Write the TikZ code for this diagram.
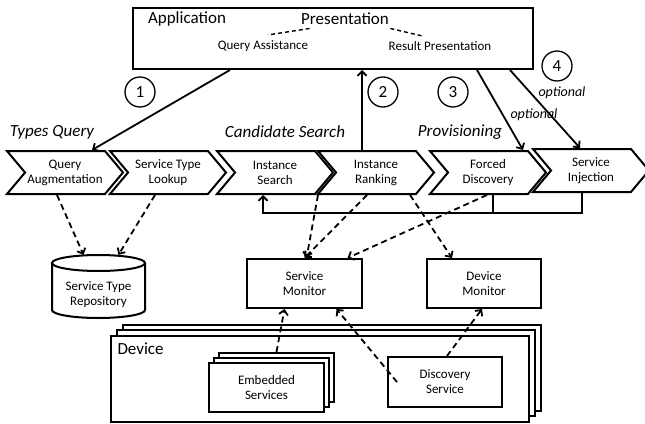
\documentclass[tikz,border=0pt]{standalone}
\usepackage{fontspec}
\setmainfont{Carlito}
\usetikzlibrary{positioning,arrows.meta,shapes.symbols,calc}

\begin{document}
\begin{tikzpicture}[x=1pt,y=-1pt,>={Straight Barb[length=4.5pt,width=9pt]},
  box/.style={draw,line width=2pt,fill=white,align=center,inner sep=0pt,font=\fontsize{13}{15}\selectfont},
  chev/.style={draw,line width=2pt,signal,signal to=east,signal from=west,signal pointer angle=100,
    minimum width=116pt,minimum height=43pt,inner sep=0pt,align=center,font=\fontsize{13}{15}\selectfont},
  head/.style={font=\fontsize{17}{19}\selectfont},
  phase/.style={font=\fontsize{17}{19}\selectfont\itshape},
  num/.style={draw,circle,line width=1.3pt,minimum size=30pt,inner sep=0pt,font=\fontsize{17}{19}\selectfont},
  flow/.style={->,line width=1.8pt},
  dep/.style={->,line width=1.8pt,dash pattern=on 6pt off 4pt}]
\useasboundingbox (0,0) rectangle (645,423);

% application box
\node[draw,line width=2pt,minimum width=400pt,minimum height=61pt] (app) at (333,38.5) {};
\node[head] (appl) at (187,19) {Application};
\node[head] (pres) at (345,19) {Presentation};
\node[font=\fontsize{13}{15}\selectfont] (qass) at (263,46) {Query Assistance};
\node[font=\fontsize{13}{15}\selectfont] (rpres) at (440,46) {Result Presentation};
\draw[line width=1.4pt,dash pattern=on 4pt off 3pt] ([xshift=12pt]pres.south west) -- ([xshift=5pt,yshift=2pt]qass.north);
\draw[line width=1.4pt,dash pattern=on 4pt off 3pt] ([xshift=-2pt]pres.south east) -- ([xshift=-18pt,yshift=2pt]rpres.north);

% step numbers
\node[num] (n1) at (140,92) {1};
\node[num] (n2) at (383,92) {2};
\node[num] (n3) at (453,92) {3};
\node[num] (n4) at (557,66) {4};
\node[font=\fontsize{14}{16}\selectfont\itshape] (opt1) at (562,93) {optional};
\node[font=\fontsize{14}{16}\selectfont\itshape] (opt2) at (534,115) {optional};

% phases
\node[phase] (ptq) at (52,132) {Types Query};
\node[phase] (pcs) at (285,132) {Candidate Search};
\node[phase] (ppv) at (460,132) {Provisioning};

% chevrons
\node[chev] (qaug) at (65,172.5) {Query\\Augmentation};
\node[chev] (stype) at (168,172.5) {Service Type\\Lookup};
\node[chev] (isearch) at (275,172.5) {Instance\\Search};
\node[chev] (irank) at (376,172.5) {Instance\\Ranking};
\node[chev] (fdisc) at (488,172.5) {Forced\\Discovery};
\node[chev] (sinj) at (591,170.5) {Service\\Injection};

% repository
\draw[line width=2pt,fill=white] (52,263) -- (52,310) arc[start angle=180,end angle=360,x radius=46.5pt,y radius=8pt] -- (145,263);
\draw[line width=2pt] (98.5,263) ellipse[x radius=46.5pt,y radius=8pt];
\node[minimum width=93pt,minimum height=63pt,inner sep=0pt] (repo) at (98.5,286.5) {};
\node[align=center,font=\fontsize{13}{15}\selectfont] (repol) at (98.5,295) {Service Type\\Repository};

% monitors
\node[box,minimum width=115pt,minimum height=49pt] (smon) at (304.5,283.5) {Service\\Monitor};
\node[box,minimum width=114pt,minimum height=49pt] (dmon) at (484,283.5) {Device\\Monitor};

% device stack
\node[box,minimum width=418pt,minimum height=86pt] (devc) at (332,368) {};
\node[box,minimum width=418pt,minimum height=86pt] (devb) at (326,373) {};
\node[box,minimum width=418pt,minimum height=86pt] (dev) at (320,378.5) {};
\node[head,anchor=west] (devl) at (114,349) {Device};

% embedded services stack
\node[box,minimum width=115pt,minimum height=49pt] (embb) at (276.5,377.5) {};
\node[box,minimum width=115pt,minimum height=49pt] (embm) at (271.5,382.5) {};
\node[box,minimum width=115pt,minimum height=49pt] (emb) at (266.5,387.5) {Embedded\\Services};
\node[box,minimum width=114pt,minimum height=50pt] (disc) at (445,382) {Discovery\\Service};

% control flow
\draw[flow] ([xshift=-103pt]app.south) -- ([xshift=27pt]qaug.north);
\draw[flow] ([xshift=-14pt]irank.north) -- ([xshift=-14pt]irank.north |- app.south);
\draw[flow] ([xshift=144pt]app.south) -- ([xshift=35pt]fdisc.north);
\draw[flow] ([xshift=177pt]app.south) -- ([xshift=-11pt]sinj.north);
\draw[flow] ([xshift=-9pt]sinj.south) -- ++(0,20) -| ([xshift=-12pt]isearch.south);
\draw[line width=1.8pt] ([xshift=5pt]fdisc.south) -- ++(0,18);

% dependencies
\draw[dep] ([xshift=-8pt]qaug.south) -- ([xshift=-15pt]repo.north);
\draw[dep] ([xshift=-13pt]stype.south) -- ([xshift=20pt]repo.north);
\draw[dep] ([xshift=43pt]isearch.south) -- ([xshift=2pt]smon.north);
\draw[dep] ([xshift=-9pt]irank.south) -- (smon.north);
\draw[dep] ([xshift=34pt]irank.south) -- ([xshift=-32pt]dmon.north);
\draw[dep] ([xshift=-1pt]fdisc.south) -- ([xshift=43pt]smon.north);
\draw[dep] (embb.north) -- ([xshift=-20pt]smon.south);
\draw[dep] ([xshift=10pt]disc.west) -- ([xshift=32pt]smon.south);
\draw[dep] ([xshift=2pt]disc.north) -- ([xshift=-2pt]dmon.south);
\end{tikzpicture}
\end{document}
